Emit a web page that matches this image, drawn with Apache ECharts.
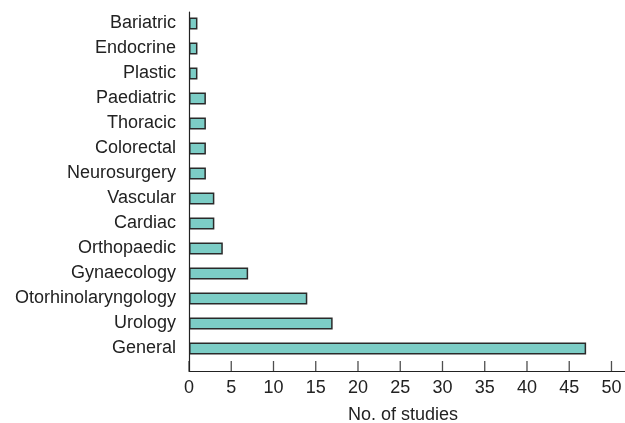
<!DOCTYPE html>
<html>
<head>
<meta charset="utf-8">
<script src="https://cdn.jsdelivr.net/npm/echarts@6/dist/echarts.min.js"></script>
<style>html,body{margin:0;padding:0;background:#fff}#c{width:625px;height:423px}</style>
</head>
<body>
<div id="c"></div>
<script>
const categories = ['Bariatric','Endocrine','Plastic','Paediatric','Thoracic','Colorectal','Neurosurgery','Vascular','Cardiac','Orthopaedic','Gynaecology','Otorhinolaryngology','Urology','General'];
const studies = [1,1,1,2,2,2,2,3,3,4,7,14,17,47];
const tickValues = [0,5,10,15,20,25,30,35,40,45,50];
const axisTitle = 'No. of studies';

const FONT = '"Liberation Sans", Arial, Helvetica, sans-serif';
const TXT = '#222';
const chart = echarts.init(document.getElementById('c'), null, {renderer: 'canvas'});
chart.setOption({
  animation: false,
  backgroundColor: '#fff',
  grid: [
    {left: 189, right: 0, top: 12, bottom: 52, outerBoundsMode: 'none', containLabel: false},
    {left: 189, right: 0, top: 11, height: 350, outerBoundsMode: 'none', containLabel: false}
  ],
  xAxis: [
    {gridIndex: 0, type: 'value', min: 0, max: 51.6, z: 10,
     axisLine: {show: true, lineStyle: {color: '#222', width: 1.2}},
     axisTick: {show: false},
     axisLabel: {customValues: tickValues, fontSize: 18, color: TXT, fontFamily: FONT, margin: 8},
     splitLine: {show: false},
     name: axisTitle, nameLocation: 'middle', nameGap: 35,
     nameTextStyle: {fontSize: 18, color: TXT, fontFamily: FONT, padding: [0, 8, 0, 0]}},
    {gridIndex: 1, type: 'value', min: 0, max: 51.6, show: false}
  ],
  yAxis: [
    {gridIndex: 0, type: 'value', min: 0, max: 1, z: 10,
     axisLine: {show: true, lineStyle: {color: '#222', width: 1.2}},
     axisTick: {show: false}, axisLabel: {show: false}, splitLine: {show: false}},
    {gridIndex: 1, type: 'category', data: categories, inverse: true,
     axisLine: {show: false}, axisTick: {show: false},
     axisLabel: {fontSize: 18, color: TXT, fontFamily: FONT, margin: 13}}
  ],
  series: [
    {
      type: 'bar', xAxisIndex: 1, yAxisIndex: 1, data: studies, barWidth: 12,
      itemStyle: {color: '#7ccdc6', borderColor: '#2a2a2a', borderWidth: 1.5}
    },
    {
      type: 'scatter', xAxisIndex: 0, yAxisIndex: 0, silent: true, clip: false, z: 10,
      data: tickValues.map(v => [v, 0]),
      symbol: 'rect', symbolSize: [1.3, 10], symbolOffset: [0, -5],
      itemStyle: {color: '#222'}
    }
  ]
});
</script>
</body>
</html>
